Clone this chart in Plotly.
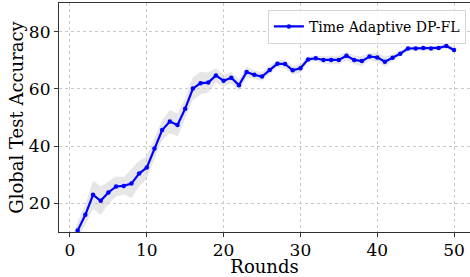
import plotly.graph_objects as go

rounds = list(range(0, 51))
accuracy = [2.0, 10.5, 16.0, 23.0, 20.9, 23.8, 25.9, 26.1, 26.9, 30.4,
            32.5, 39.2, 45.6, 48.6, 47.4, 53.1, 60.1, 62.0, 62.2, 64.7,
            62.8, 63.9, 61.3, 65.9, 64.9, 64.3, 66.6, 68.8, 68.7, 66.5,
            67.2, 70.3, 70.7, 70.1, 70.1, 70.1, 71.6, 70.1, 69.7, 71.3,
            71.0, 69.5, 70.9, 72.3, 74.1, 74.1, 74.3, 74.1, 74.3, 75.0,
            73.6]
spread = [3.0, 3.0, 3.5, 5.0, 5.0, 4.0, 3.5, 3.0, 5.0, 4.5,
          4.0, 3.5, 3.5, 4.0, 4.0, 3.5, 4.0, 4.0, 3.5, 2.5,
          2.0, 2.0, 2.0, 1.8, 1.5, 1.5, 1.5, 1.2, 1.5, 1.5,
          1.5, 1.0, 1.0, 1.2, 1.5, 1.5, 1.5, 1.5, 1.8, 1.2,
          1.5, 1.8, 1.2, 1.0, 0.8, 0.8, 0.8, 0.8, 0.8, 0.8,
          0.8]
series_name = "Time Adaptive DP-FL"

upper = [a + s for a, s in zip(accuracy, spread)]
lower = [a - s for a, s in zip(accuracy, spread)]

fig = go.Figure()
fig.add_trace(go.Scatter(x=rounds, y=upper, mode="lines", line=dict(width=0),
                         showlegend=False, hoverinfo="skip"))
fig.add_trace(go.Scatter(x=rounds, y=lower, mode="lines", line=dict(width=0),
                         fill="tonexty", fillcolor="rgba(200,200,200,0.45)",
                         showlegend=False, hoverinfo="skip"))
fig.add_trace(go.Scatter(x=rounds, y=accuracy, mode="lines+markers", name=series_name,
                         line=dict(color="#0000ff", width=2.2),
                         marker=dict(color="#0000ff", size=4.5)))

font = "DejaVu Serif"
fig.update_layout(
    width=470, height=277,
    margin=dict(l=59, r=0, t=3, b=45, autoexpand=False),
    paper_bgcolor="white", plot_bgcolor="white",
    font=dict(family=font, color="black"),
    legend=dict(x=0.99, y=0.97, xanchor="right", yanchor="top",
                bgcolor="rgba(255,255,255,0.85)", bordercolor="#d5d5d5", borderwidth=1,
                itemwidth=30, tracegroupgap=0,
                font=dict(family=font, size=14, color="black")),
    xaxis=dict(range=[-1.43, 52.08], tickvals=[0, 10, 20, 30, 40, 50], automargin=True,
               showgrid=True, gridcolor="#c8c8c8", griddash="dot", gridwidth=1,
               zeroline=False, showline=True, linecolor="#333", linewidth=1.2, mirror=True,
               ticks="outside", ticklen=4, tickcolor="#333", ticklabelstandoff=-2,
               tickfont=dict(family=font, size=17),
               title=dict(text="Rounds", font=dict(family=font, size=18), standoff=2)),
    yaxis=dict(range=[10, 90], tickvals=[20, 40, 60, 80], automargin=True,
               showgrid=True, gridcolor="#c8c8c8", griddash="dot", gridwidth=1,
               zeroline=False, showline=True, linecolor="#333", linewidth=1.2,
               ticks="outside", ticklen=4, tickcolor="#333",
               tickfont=dict(family=font, size=17),
               title=dict(text="Global Test Accuracy", font=dict(family=font, size=18), standoff=0)),
)

fig.write_html("out.html", config={"displayModeBar": False},
               post_script="document.body.style.margin='0';")
